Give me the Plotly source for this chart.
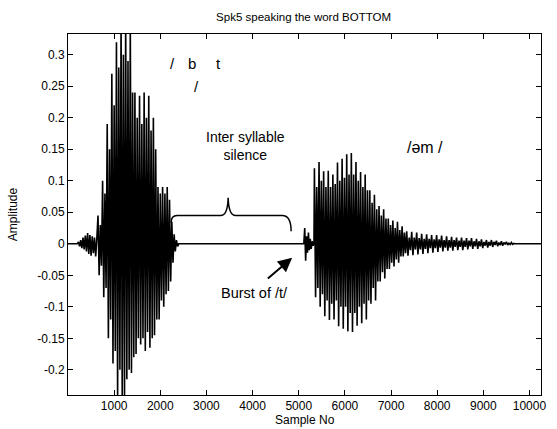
import plotly.graph_objects as go

# Speech waveform of "BOTTOM": turning points (alternating peaks/troughs) per segment.
# Each segment: first sample index, sample step between turning points, amplitudes.
pre_start, pre_step = 200, 25
pre_vals = [0.0, 0.003, -0.004, 0.006, -0.007, 0.010, -0.009, 0.013, -0.012,
            0.017, -0.016, 0.014, -0.019, 0.012, -0.015, 0.010, -0.020, 0.008]

syl1_start, syl1_step = 650, 25
syl1_vals = [0.045, -0.050, 0.030, -0.035,
             0.100, -0.085, 0.080, -0.070,
             0.190, -0.150, 0.150, -0.120,
             0.270, -0.190, 0.220, -0.170,
             0.320, -0.245, 0.280, -0.200,
             0.360, -0.250, 0.300, -0.240,
             0.360, -0.215, 0.290, -0.200,
             0.350, -0.205, 0.240, -0.180,
             0.240, -0.175, 0.200, -0.150,
             0.235, -0.160, 0.190, -0.150,
             0.240, -0.170, 0.200, -0.140,
             0.235, -0.165, 0.180, -0.150,
             0.200, -0.145, 0.150, -0.120,
             0.090, -0.120, 0.080, -0.090,
             0.090, -0.100, 0.080, -0.080,
             0.090, -0.075, 0.070, -0.060,
             0.035, -0.030, 0.015, -0.012,
             0.006, -0.004, 0.0]

burst_start, burst_step = 5110, 20
burst_vals = [0.0, 0.025, -0.027, 0.012, -0.014, 0.018, -0.010, 0.008,
              -0.008, 0.004, -0.003, 0.0]

syl2_start, syl2_step = 5340, 25
syl2_vals = [0.120, -0.085, 0.090, -0.070,
             0.130, -0.100, 0.100, -0.080,
             0.115, -0.115, 0.090, -0.090,
             0.116, -0.121, 0.090, -0.095,
             0.110, -0.120, 0.095, -0.090,
             0.129, -0.131, 0.100, -0.100,
             0.135, -0.135, 0.105, -0.100,
             0.142, -0.139, 0.110, -0.110,
             0.144, -0.140, 0.110, -0.110,
             0.130, -0.130, 0.100, -0.100,
             0.114, -0.126, 0.090, -0.095,
             0.110, -0.120, 0.085, -0.090,
             0.085, -0.095, 0.065, -0.070,
             0.078, -0.090, 0.055, -0.060,
             0.060, -0.060, 0.045, -0.045,
             0.055, -0.055, 0.040, -0.040,
             0.040, -0.040, 0.030, -0.030,
             0.037, -0.036, 0.025, -0.025,
             0.035, -0.030, 0.022, -0.020,
             0.028, -0.020, 0.018, -0.015]

tail_start, tail_step = 7340, 27
tail_vals = [0.020, -0.019, 0.010, -0.010,
             0.019, -0.018, 0.010, -0.009,
             0.018, -0.017, 0.009, -0.009,
             0.016, -0.016, 0.008, -0.008,
             0.015, -0.015, 0.008, -0.007,
             0.014, -0.014, 0.007, -0.007,
             0.014, -0.013, 0.007, -0.006,
             0.013, -0.012, 0.006, -0.006,
             0.012, -0.011, 0.006, -0.006,
             0.011, -0.011, 0.006, -0.005,
             0.010, -0.010, 0.005, -0.005,
             0.010, -0.010, 0.005, -0.005,
             0.009, -0.009, 0.005, -0.004,
             0.009, -0.008, 0.004, -0.004,
             0.008, -0.008, 0.004, -0.004,
             0.007, -0.007, 0.003, -0.003,
             0.006, -0.006, 0.003, -0.003,
             0.006, -0.005, 0.003, -0.002,
             0.005, -0.004, 0.002, -0.002,
             0.004, -0.003, 0.002, -0.001,
             0.003, -0.002, 0.001, -0.001,
             0.002, -0.001, 0.0005, 0.0]

last_sample = 10250

x_ticks = [1000, 2000, 3000, 4000, 5000, 6000, 7000, 8000, 9000, 10000]
x_labels = ["1000", "2000", "3000", "4000", "5000", "6000", "7000", "8000", "9000", "10000"]
y_ticks = [-0.2, -0.15, -0.1, -0.05, 0, 0.05, 0.1, 0.15, 0.2, 0.25, 0.3]
y_labels = ["-0.2", "-0.15", "-0.1", "-0.05", "0", "0.05", "0.1", "0.15", "0.2", "0.25", "0.3"]

segments = [(pre_start, pre_step, pre_vals),
            (syl1_start, syl1_step, syl1_vals),
            (burst_start, burst_step, burst_vals),
            (syl2_start, syl2_step, syl2_vals),
            (tail_start, tail_step, tail_vals)]

xs, ys = [0], [0.0]
for start, step, vals in segments:
    for i, v in enumerate(vals):
        xs.append(start + i * step)
        ys.append(v)
xs.append(last_sample)
ys.append(0.0)

FONT = "Liberation Sans, Arial, Helvetica, sans-serif"

fig = go.Figure()
fig.add_trace(go.Scatter(x=xs, y=ys, mode="lines",
                         line=dict(color="black", width=1.6),
                         hoverinfo="skip", showlegend=False))

axis_common = dict(showline=True, linecolor="black", linewidth=1, mirror="ticks",
                   ticks="inside", ticklen=5, tickcolor="black",
                   showgrid=False, zeroline=False,
                   tickfont=dict(family=FONT, size=12, color="black"))

fig.update_layout(
    width=557, height=429,
    margin=dict(l=68, r=11, t=34, b=34),
    paper_bgcolor="white", plot_bgcolor="white",
    title=dict(text="Spk5 speaking the word BOTTOM", x=0.545, xanchor="center",
               y=1 - 17 / 429, yanchor="middle", yref="container",
               font=dict(family=FONT, size=11.5, color="black")),
    xaxis=dict(range=[0, 10250], tickvals=x_ticks, ticktext=x_labels, **axis_common),
    yaxis=dict(range=[-0.240, 0.333], tickvals=y_ticks, ticktext=y_labels, **axis_common),
)

# Axis titles
fig.add_annotation(text="Sample No", xref="paper", yref="paper", x=0.5, y=-0.043,
                   xanchor="center", yanchor="top", showarrow=False,
                   font=dict(family=FONT, size=12, color="black"))
fig.add_annotation(text="Amplitude", xref="paper", yref="paper", x=-0.117, y=0.5,
                   textangle=-90, xanchor="center", yanchor="middle", showarrow=False,
                   font=dict(family=FONT, size=12, color="black"))

# Phonetic labels
label_font = dict(family=FONT, size=15, color="black")
for txt, xv, yv in [("/", 2256, 0.286), ("b", 2686, 0.286), ("t", 3266, 0.286),
                    ("/", 2787, 0.250)]:
    fig.add_annotation(text=txt, x=xv, y=yv, showarrow=False, font=label_font)

fig.add_annotation(text="Inter syllable<br>silence", x=3847, y=0.156, showarrow=False,
                   font=dict(family=FONT, size=14, color="black"))
fig.add_annotation(text="/əm /", x=7726, y=0.153, showarrow=False,
                   font=dict(family=FONT, size=16, color="black"))
fig.add_annotation(text="Burst of /t/", x=4040, y=-0.078, showarrow=False,
                   font=dict(family=FONT, size=14.5, color="black"))

# Arrow pointing at the burst
fig.add_annotation(x=4857, y=-0.0223, ax=4298, ay=-0.057, xref="x", yref="y",
                   axref="x", ayref="y", text="", showarrow=True,
                   arrowhead=2, arrowsize=1.4, arrowwidth=2, arrowcolor="black")

# Curly brace over the silent gap
fig.add_shape(type="path", xref="x", yref="y",
              path=("M 2235,0.0339 Q 2235,0.0448 2364,0.0448 L 3309,0.0448 "
                    "Q 3460,0.0448 3471,0.073 Q 3481,0.0448 3632,0.0448 "
                    "L 4642,0.0448 Q 4835,0.0448 4835,0.0198"),
              line=dict(color="black", width=1.5))

fig.write_html("out.html")
